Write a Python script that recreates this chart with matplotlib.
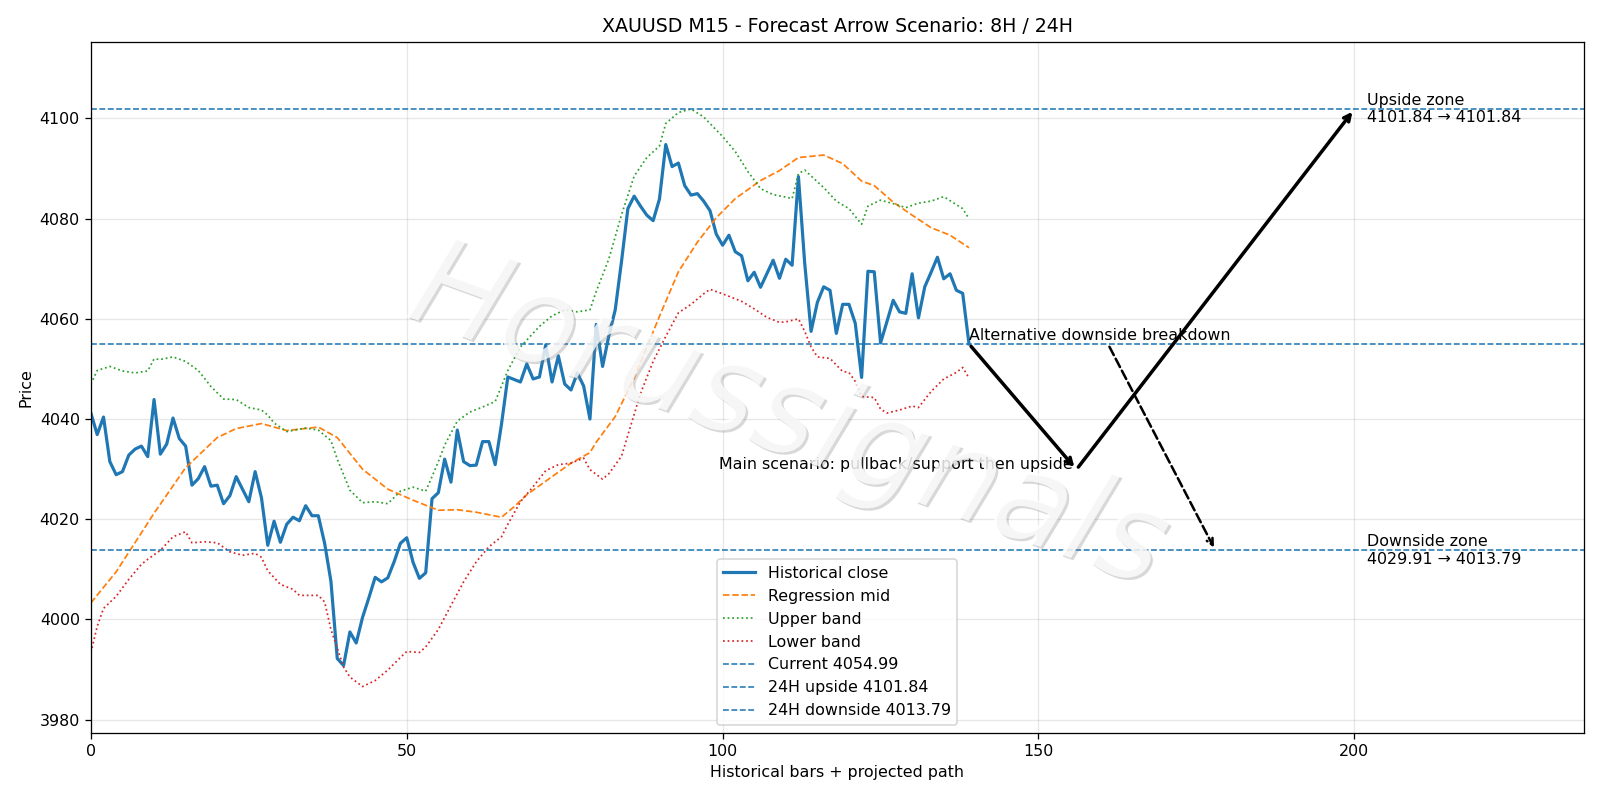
import matplotlib
matplotlib.use("Agg")
import matplotlib.pyplot as plt
import matplotlib.patheffects as pe

# ---- data ----
close = [
    4041.2, 4036.9, 4040.4, 4031.5, 4028.9, 4029.5, 4032.8, 4034.0, 4034.6, 4032.5,
    4043.9, 4033.0, 4035.0, 4040.2, 4036.1, 4034.6, 4026.8, 4028.1, 4030.5, 4026.6,
    4026.8, 4023.1, 4024.7, 4028.5, 4026.0, 4023.5, 4029.5, 4024.3, 4014.8, 4019.6,
    4015.4, 4019.0, 4020.4, 4019.7, 4022.7, 4020.7, 4020.7, 4015.2, 4007.6, 3992.2,
    3990.8, 3997.5, 3995.3, 4000.4, 4004.3, 4008.4, 4007.5, 4008.3, 4011.5, 4015.2,
    4016.3, 4011.4, 4008.2, 4009.3, 4024.1, 4025.3, 4032.0, 4027.4, 4037.8, 4031.5,
    4030.7, 4030.8, 4035.5, 4035.5, 4030.9, 4039.0, 4048.4, 4047.9, 4047.4, 4051.0,
    4048.0, 4048.4, 4054.8, 4047.4, 4052.6, 4047.0, 4045.8, 4049.2, 4046.6, 4040.0,
    4058.9, 4050.5, 4056.7, 4061.8, 4071.5, 4082.0, 4084.5, 4082.5, 4080.7, 4079.6,
    4083.9, 4094.8, 4090.4, 4091.1, 4086.6, 4084.7, 4085.0, 4083.5, 4081.6, 4076.9,
    4074.7, 4076.7, 4073.4, 4072.6, 4067.6, 4069.3, 4066.3, 4069.0, 4071.7, 4068.1,
    4071.9, 4070.7, 4088.4, 4071.0, 4057.5, 4063.3, 4066.4, 4065.7, 4057.1, 4062.9,
    4062.9, 4059.1, 4048.3, 4069.5, 4069.4, 4055.2, 4059.4, 4063.7, 4061.4, 4061.1,
    4069.0, 4060.2, 4066.4, 4069.3, 4072.3, 4068.0, 4069.0, 4065.7, 4065.1, 4054.99,
]

mid_x = [0, 4, 10, 15, 20, 23, 27, 31, 36, 39, 43, 47, 51, 55, 58, 61, 65, 67, 69, 72,
         76, 79, 80, 83, 86, 90, 93, 96, 99, 102, 106, 109, 112, 116, 119, 122, 124, 127,
         130, 133, 136, 139]
mid_y = [4003.3, 4009.5, 4021.2, 4030.3, 4036.3, 4038.1, 4039.1, 4037.7, 4038.4, 4036.3,
         4030.0, 4026.0, 4023.8, 4021.8, 4021.9, 4021.4, 4020.4, 4022.5, 4024.9, 4027.6,
         4031.2, 4033.3, 4035.4, 4040.5, 4048.2, 4060.5, 4069.4, 4075.3, 4080.2, 4084.0,
         4087.6, 4089.6, 4092.2, 4092.7, 4091.0, 4087.5, 4086.6, 4083.3, 4080.7, 4078.2,
         4076.7, 4074.2]

upper_x = [0, 1, 3, 5, 7, 9, 10, 11, 13, 15, 17, 19, 21, 23, 25, 27, 28, 29, 31, 34,
           36, 38, 39, 41, 43, 45, 47, 49, 51, 53, 54, 55, 56, 58, 60, 62, 64, 66, 68, 71,
           73, 75, 77, 79, 80, 82, 84, 86, 88, 90, 91, 93, 95, 97, 100, 102, 104, 106, 108,
           110, 111, 112, 113, 116, 118, 120, 122, 123, 125, 127, 129, 131, 133, 135, 136,
           138, 139]
upper_y = [4047.0, 4049.7, 4050.5, 4049.6, 4049.2, 4049.6, 4052.0, 4051.9, 4052.4, 4051.5,
           4049.7, 4046.5, 4044.0, 4043.9, 4042.3, 4041.8, 4040.8, 4039.2, 4037.5, 4038.2,
           4037.8, 4035.7, 4032.0, 4025.8, 4023.3, 4023.5, 4023.1, 4025.6, 4026.4, 4025.6,
           4028.5, 4031.5, 4034.8, 4039.6, 4041.4, 4042.4, 4043.5, 4049.7, 4054.4, 4058.5,
           4060.6, 4061.8, 4061.4, 4061.8, 4065.5, 4072.0, 4080.8, 4088.5, 4092.2, 4094.5,
           4099.0, 4101.2, 4101.9, 4100.3, 4096.4, 4093.4, 4089.4, 4086.0, 4084.8, 4084.3,
           4084.0, 4089.0, 4089.7, 4086.2, 4083.5, 4082.0, 4078.9, 4082.5, 4083.7, 4083.0,
           4082.2, 4083.1, 4083.5, 4084.4, 4083.6, 4082.0, 4080.0]

lower_x = [0, 1, 2, 4, 6, 8, 9, 11, 13, 15, 16, 18, 20, 22, 24, 26, 27, 28, 30, 32,
           33, 36, 37, 38, 40, 41, 43, 45, 47, 49, 50, 52, 53, 55, 57, 59, 61, 63, 65, 66,
           68, 70, 72, 74, 76, 78, 79, 81, 82, 84, 85, 87, 89, 91, 93, 95, 97, 98, 100, 103,
           105, 107, 109, 110, 112, 113, 114, 115, 117, 119, 120, 121, 122, 124, 125, 126,
           128, 130, 131, 133, 135, 137, 138, 139]
lower_y = [3993.4, 3998.6, 4002.2, 4004.6, 4008.0, 4011.0, 4012.0, 4013.8, 4016.5, 4017.5,
           4015.3, 4015.5, 4015.3, 4013.5, 4012.8, 4013.2, 4012.4, 4009.7, 4007.0, 4006.0,
           4004.8, 4004.8, 4003.5, 3998.0, 3990.5, 3988.5, 3986.6, 3987.8, 3989.9, 3992.4,
           3993.6, 3993.4, 3994.5, 3998.0, 4002.8, 4007.5, 4011.5, 4014.5, 4016.5, 4019.0,
           4023.5, 4026.5, 4029.7, 4030.9, 4031.2, 4032.2, 4029.9, 4028.0, 4029.1, 4032.6,
           4036.8, 4045.1, 4051.5, 4056.5, 4061.2, 4062.9, 4065.0, 4065.9, 4065.0, 4063.5,
           4062.0, 4060.3, 4059.3, 4059.4, 4060.0, 4057.5, 4054.4, 4052.4, 4052.1, 4049.5,
           4049.3, 4047.5, 4044.5, 4044.3, 4042.0, 4041.2, 4041.8, 4042.6, 4042.3, 4045.5,
           4048.0, 4049.3, 4050.3, 4048.2]

current = 4054.99
upside = 4101.84
downside = 4013.79
pullback = 4029.91

last_x = 139
pull_x = 156
alt_x = 161
down_x = 178
up_x = 200

fig, ax = plt.subplots(figsize=(14, 7), dpi=1600 / 14)
fig.subplots_adjust(left=0.0568, right=0.9898, top=0.9477, bottom=0.0842)

ax.plot(range(len(close)), close, color="#1f77b4", linewidth=2, label="Historical close")
ax.plot(mid_x, mid_y, color="#ff7f0e", linestyle="--", linewidth=1.1, label="Regression mid")
ax.plot(upper_x, upper_y, color="#2ca02c", linestyle=":", linewidth=1.1, label="Upper band")
ax.plot(lower_x, lower_y, color="#d62728", linestyle=":", linewidth=1.1, label="Lower band")
ax.axhline(current, color="#1f77b4", linestyle="--", linewidth=1, label=f"Current {current:.2f}")
ax.axhline(upside, color="#1f77b4", linestyle="--", linewidth=1, label=f"24H upside {upside:.2f}")
ax.axhline(downside, color="#1f77b4", linestyle="--", linewidth=1, label=f"24H downside {downside:.2f}")

# scenario arrows
ax.annotate("", xy=(pull_x, pullback), xytext=(last_x, current),
            arrowprops=dict(arrowstyle="->", color="black", lw=2.2))
ax.annotate("", xy=(up_x, upside), xytext=(pull_x, pullback),
            arrowprops=dict(arrowstyle="->", color="black", lw=2.2))
ax.annotate("", xy=(down_x, downside), xytext=(alt_x, current),
            arrowprops=dict(arrowstyle="->", color="black", lw=1.6, linestyle="--"))

ax.text(pull_x - 0.5, pullback + 1.0, "Main scenario: pullback/support then upside",
        ha="right", va="center", fontsize=10)
ax.text(last_x, current + 0.2, "Alternative downside breakdown", ha="left", va="bottom", fontsize=10)
ax.text(202, upside, f"Upside zone\n{upside:.2f} \u2192 {upside:.2f}", ha="left", va="center", fontsize=10)
ax.text(202, downside, f"Downside zone\n{pullback:.2f} \u2192 {downside:.2f}", ha="left", va="center", fontsize=10)

# watermark
ax.text(0.467, 0.455, "Horussignals", transform=ax.transAxes, fontsize=78, style="italic",
        color="white", alpha=0.55, rotation=-20, ha="center", va="center", zorder=5,
        path_effects=[pe.withSimplePatchShadow(offset=(1.5, -1.5), shadow_rgbFace="gray", alpha=0.3),
                      pe.Normal()])

ax.set_xlim(0, 236.3)
ax.set_ylim(3977.4, 4115.3)
ax.set_title("XAUUSD M15 - Forecast Arrow Scenario: 8H / 24H")
ax.set_xlabel("Historical bars + projected path")
ax.set_ylabel("Price")
ax.grid(True, alpha=0.3)
ax.legend(loc="lower center")

fig.savefig("out.png", dpi=1600 / 14)
